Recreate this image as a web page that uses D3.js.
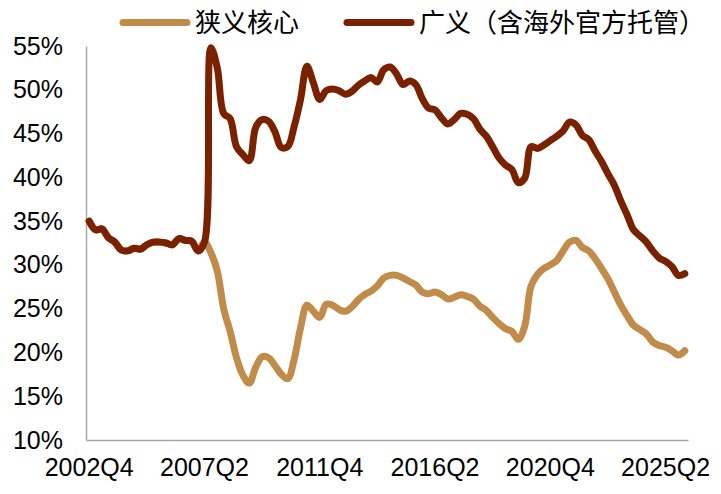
<!DOCTYPE html>
<html>
<head>
<meta charset="utf-8">
<script src="https://cdn.jsdelivr.net/npm/d3@7"></script>
<style>
	body { margin: 0; background: #fff; }
	svg { display: block; }
</style>
</head>
<body>
<svg id="chart" width="721" height="494"></svg>
<script>
// series names
const seriesNames = ["狭义核心", "广义（含海外官方托管）"];

// quarterly categories from 2002Q4 (94 quarters)
const quarters = [];
for (let i = 0; i < 94; i++) {
	const q = 3 + i; // 2002Q4 -> index 3 of 2002
	quarters.push(`${2002 + Math.floor(q / 4)}Q${(q % 4) + 1}`);
}

const tickLabels = ["2002Q4", "2007Q2", "2011Q4", "2016Q2", "2020Q4", "2025Q2"];
const yTicks = [10, 15, 20, 25, 30, 35, 40, 45, 50, 55];

// 广义（含海外官方托管）, %
const broadValues = [
	35.0, 34.0, 34.1, 33.1, 32.6, 31.7, 31.6, 31.9, 31.8, 32.3,
	32.6, 32.6, 32.5, 32.3, 33.0, 32.8, 32.7, 31.6, 32.6, 54.8,
	52.5, 47.3, 46.7, 43.5, 42.6, 41.9, 45.7, 46.6, 46.4, 45.2,
	43.4, 43.5, 45.8, 48.9, 52.7, 50.8, 48.9, 49.9, 50.1, 49.9,
	49.5, 49.8, 50.5, 51.0, 51.4, 50.9, 52.3, 52.6, 51.8, 50.6,
	51.0, 50.6, 49.0, 47.9, 47.7, 46.8, 46.1, 46.6, 47.3, 47.2,
	46.7, 45.5, 44.7, 43.5, 42.2, 41.4, 40.9, 39.4, 39.9, 43.5,
	43.3, 43.7, 44.2, 44.7, 45.3, 46.3, 46.0, 44.8, 44.3, 43.0,
	41.8, 40.4, 39.1, 37.3, 35.7, 34.0, 33.3, 32.6, 31.6, 30.8,
	30.4, 29.8, 28.8, 29.0
];

// 狭义核心, %
const coreValues = [
	35.0, 34.0, 34.1, 33.1, 32.6, 31.7, 31.6, 31.9, 31.8, 32.3,
	32.6, 32.6, 32.5, 32.3, 33.0, 32.8, 32.7, 31.6, 32.6, 31.4,
	29.3, 25.0, 22.4, 19.4, 17.4, 16.5, 18.3, 19.5, 19.4, 18.5,
	17.5, 17.0, 19.2, 22.8, 25.4, 24.7, 24.0, 25.5, 25.4, 24.9,
	24.7, 25.2, 26.0, 26.6, 27.0, 27.6, 28.5, 28.8, 28.8, 28.5,
	28.1, 27.7, 26.9, 26.7, 26.9, 26.6, 26.1, 26.3, 26.6, 26.4,
	26.1, 25.3, 24.8, 24.0, 23.3, 22.7, 22.4, 21.5, 23.0, 27.6,
	28.9, 29.6, 30.0, 30.5, 31.6, 32.6, 32.8, 32.0, 31.6, 30.7,
	29.6, 28.4, 26.9, 25.4, 24.2, 23.1, 22.6, 22.1, 21.2, 20.8,
	20.6, 20.2, 19.7, 20.2
];

const colors = { core: "#C18C49", broad: "#7A2200", axis: "#A6A6A6" };

const svg = d3.select("#chart");
const plotLeft = 86, plotRight = 688, plotTop = 46, plotBottom = 440;

const x = d3.scaleBand().domain(quarters).range([plotLeft, plotRight]).padding(0);
const y = d3.scaleLinear().domain([10, 55]).range([plotBottom, plotTop]);
const cx = (q) => x(q) + x.bandwidth() / 2;

// axes
const xAxis = svg.append("g")
	.attr("transform", `translate(0,${plotBottom})`)
	.call(d3.axisBottom(x).tickValues(tickLabels).tickSize(0).tickPadding(18));
xAxis.select(".domain").attr("stroke", colors.axis).attr("stroke-width", 1.5);
xAxis.selectAll("text")
	.attr("font-family", "'Liberation Sans', Arial, sans-serif")
	.attr("font-size", 25)
	.attr("fill", "#000");

const yAxis = svg.append("g")
	.attr("transform", `translate(${plotLeft},0)`)
	.call(d3.axisLeft(y).tickValues(yTicks).tickSize(0).tickPadding(23).tickFormat((d) => d + "%"));
yAxis.select(".domain").attr("stroke", colors.axis).attr("stroke-width", 1.5);
yAxis.selectAll("text")
	.attr("font-family", "'Liberation Sans', Arial, sans-serif")
	.attr("font-size", 25)
	.attr("fill", "#000");

// lines
const line = d3.line()
	.x((d) => cx(d.q))
	.y((d) => y(d.v))
	.curve(d3.curveCatmullRom.alpha(0.5));

const series = [
	{ name: seriesNames[0], color: colors.core, values: coreValues },
	{ name: seriesNames[1], color: colors.broad, values: broadValues },
];

svg.append("g")
	.selectAll("path")
	.data(series)
	.join("path")
	.attr("fill", "none")
	.attr("stroke", (d) => d.color)
	.attr("stroke-width", 7)
	.attr("stroke-linecap", "round")
	.attr("stroke-linejoin", "round")
	.attr("d", (d) => line(d.values.map((v, i) => ({ q: quarters[i], v }))));

// legend
const legendPos = [123, 347];
const legend = svg.append("g")
	.selectAll("g")
	.data(series)
	.join("g")
	.attr("transform", (d, i) => `translate(${legendPos[i]},22.5)`);
legend.append("line")
	.attr("x1", 0).attr("x2", 64)
	.attr("stroke", (d) => d.color)
	.attr("stroke-width", 7)
	.attr("stroke-linecap", "round");
legend.append("text")
	.attr("x", 72)
	.attr("y", 9)
	.attr("font-family", "'Noto Sans CJK SC', sans-serif")
	.attr("font-size", 26)
	.attr("fill", "#000")
	.text((d) => d.name);
</script>
</body>
</html>
